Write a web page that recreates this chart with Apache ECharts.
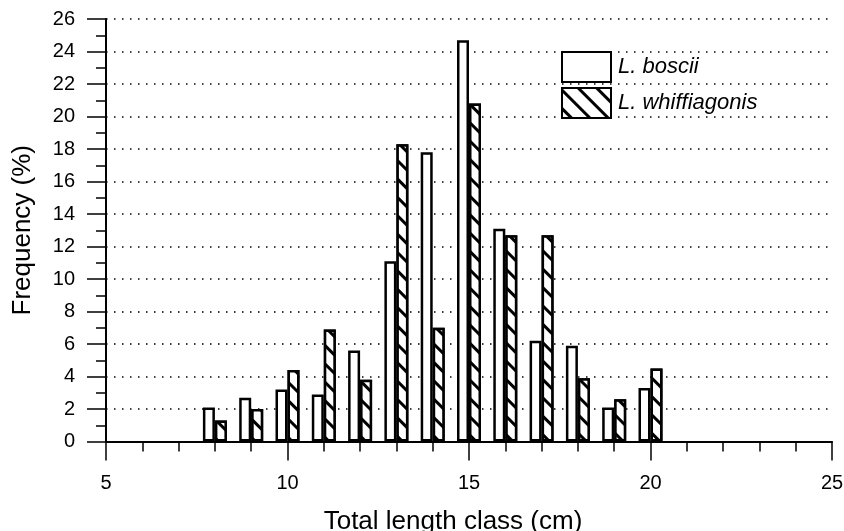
<!DOCTYPE html>
<html><head><meta charset="utf-8">
<script src="https://cdn.jsdelivr.net/npm/echarts@6/dist/echarts.min.js"></script>
<style>html,body{margin:0;padding:0;background:#fff}#c{width:844px;height:531px}</style>
</head><body><div id="c"></div>
<script>
var lengthClasses = [8, 9, 10, 11, 12, 13, 14, 15, 16, 17, 18, 19, 20];
var boscii = [2.1, 2.7, 3.2, 2.9, 5.6, 11.1, 17.8, 24.7, 13.1, 6.2, 5.9, 2.1, 3.3];
var whiffiagonis = [1.3, 2.0, 4.4, 6.9, 3.8, 18.3, 7.0, 20.8, 12.7, 12.7, 3.9, 2.6, 4.5];
var seriesNames = ['L. boscii', 'L. whiffiagonis'];

var FONT = 'Liberation Sans';
function pairs(vals){ return lengthClasses.map(function(c,i){ return [c, vals[i]]; }); }

var chart = echarts.init(document.getElementById('c'), null, {renderer:'canvas'});
chart.setOption({
  animation: false,
  backgroundColor: '#fff',
  textStyle: {fontFamily: FONT, color: '#000'},
  grid: {left: 106, right: 12, top: 19, bottom: 89.5, containLabel: false, outerBoundsMode: 'none'},
  legend: {
    orient: 'vertical', left: 561, top: 51, itemWidth: 49, itemHeight: 30, itemGap: 4,
    padding: 0, icon: 'rect',
    textStyle: {fontFamily: FONT, fontSize: 22, fontStyle: 'italic', color: '#000', padding: [0, 0, 0, 2]},
    data: seriesNames
  },
  xAxis: {
    type: 'value', min: 5, max: 25, interval: 5,
    name: 'Total length class (cm)', nameLocation: 'middle', nameGap: 67,
    nameTextStyle: {fontFamily: FONT, fontSize: 26, color: '#000', padding: [0, 32, 0, 0]},
    axisLine: {show: true, lineStyle: {color: '#000', width: 2}},
    axisTick: {show: true, length: 19, lineStyle: {color: '#000', width: 1.5}},
    minorTick: {show: true, splitNumber: 5, length: 10, lineStyle: {color: '#000', width: 1.5}},
    axisLabel: {fontFamily: FONT, fontSize: 20, color: '#000', margin: 32},
    splitLine: {show: false}
  },
  yAxis: {
    type: 'value', min: 0, max: 26, interval: 2,
    name: 'Frequency (%)', nameLocation: 'middle', nameGap: 70, nameRotate: 90,
    nameTextStyle: {fontFamily: FONT, fontSize: 26, color: '#000'},
    axisLine: {show: true, lineStyle: {color: '#000', width: 2}},
    axisTick: {show: true, length: 19, lineStyle: {color: '#000', width: 1.5}},
    minorTick: {show: true, splitNumber: 2, length: 10, lineStyle: {color: '#000', width: 1.5}},
    axisLabel: {fontFamily: FONT, fontSize: 20, color: '#000', margin: 31},
    splitLine: {show: true, lineStyle: {color: '#000', width: 1.5, type: [1.5, 6.5]}}
  },
  series: [
    {
      name: seriesNames[0], type: 'bar', data: pairs(boscii), barWidth: 12, barGap: '0%',
      itemStyle: {color: '#fff', borderColor: '#000', borderWidth: 2.5}
    },
    {
      name: seriesNames[1], type: 'bar', data: pairs(whiffiagonis), barWidth: 12, barGap: '0%',
      itemStyle: {color: '#fff', borderColor: '#000', borderWidth: 2.5,
        decal: {symbol: 'rect', symbolSize: 1, color: '#000', backgroundColor: '#fff',
          dashArrayX: [1, 0], dashArrayY: [3, 10], rotation: Math.PI / 4}}
    }
  ]
});
</script></body></html>
